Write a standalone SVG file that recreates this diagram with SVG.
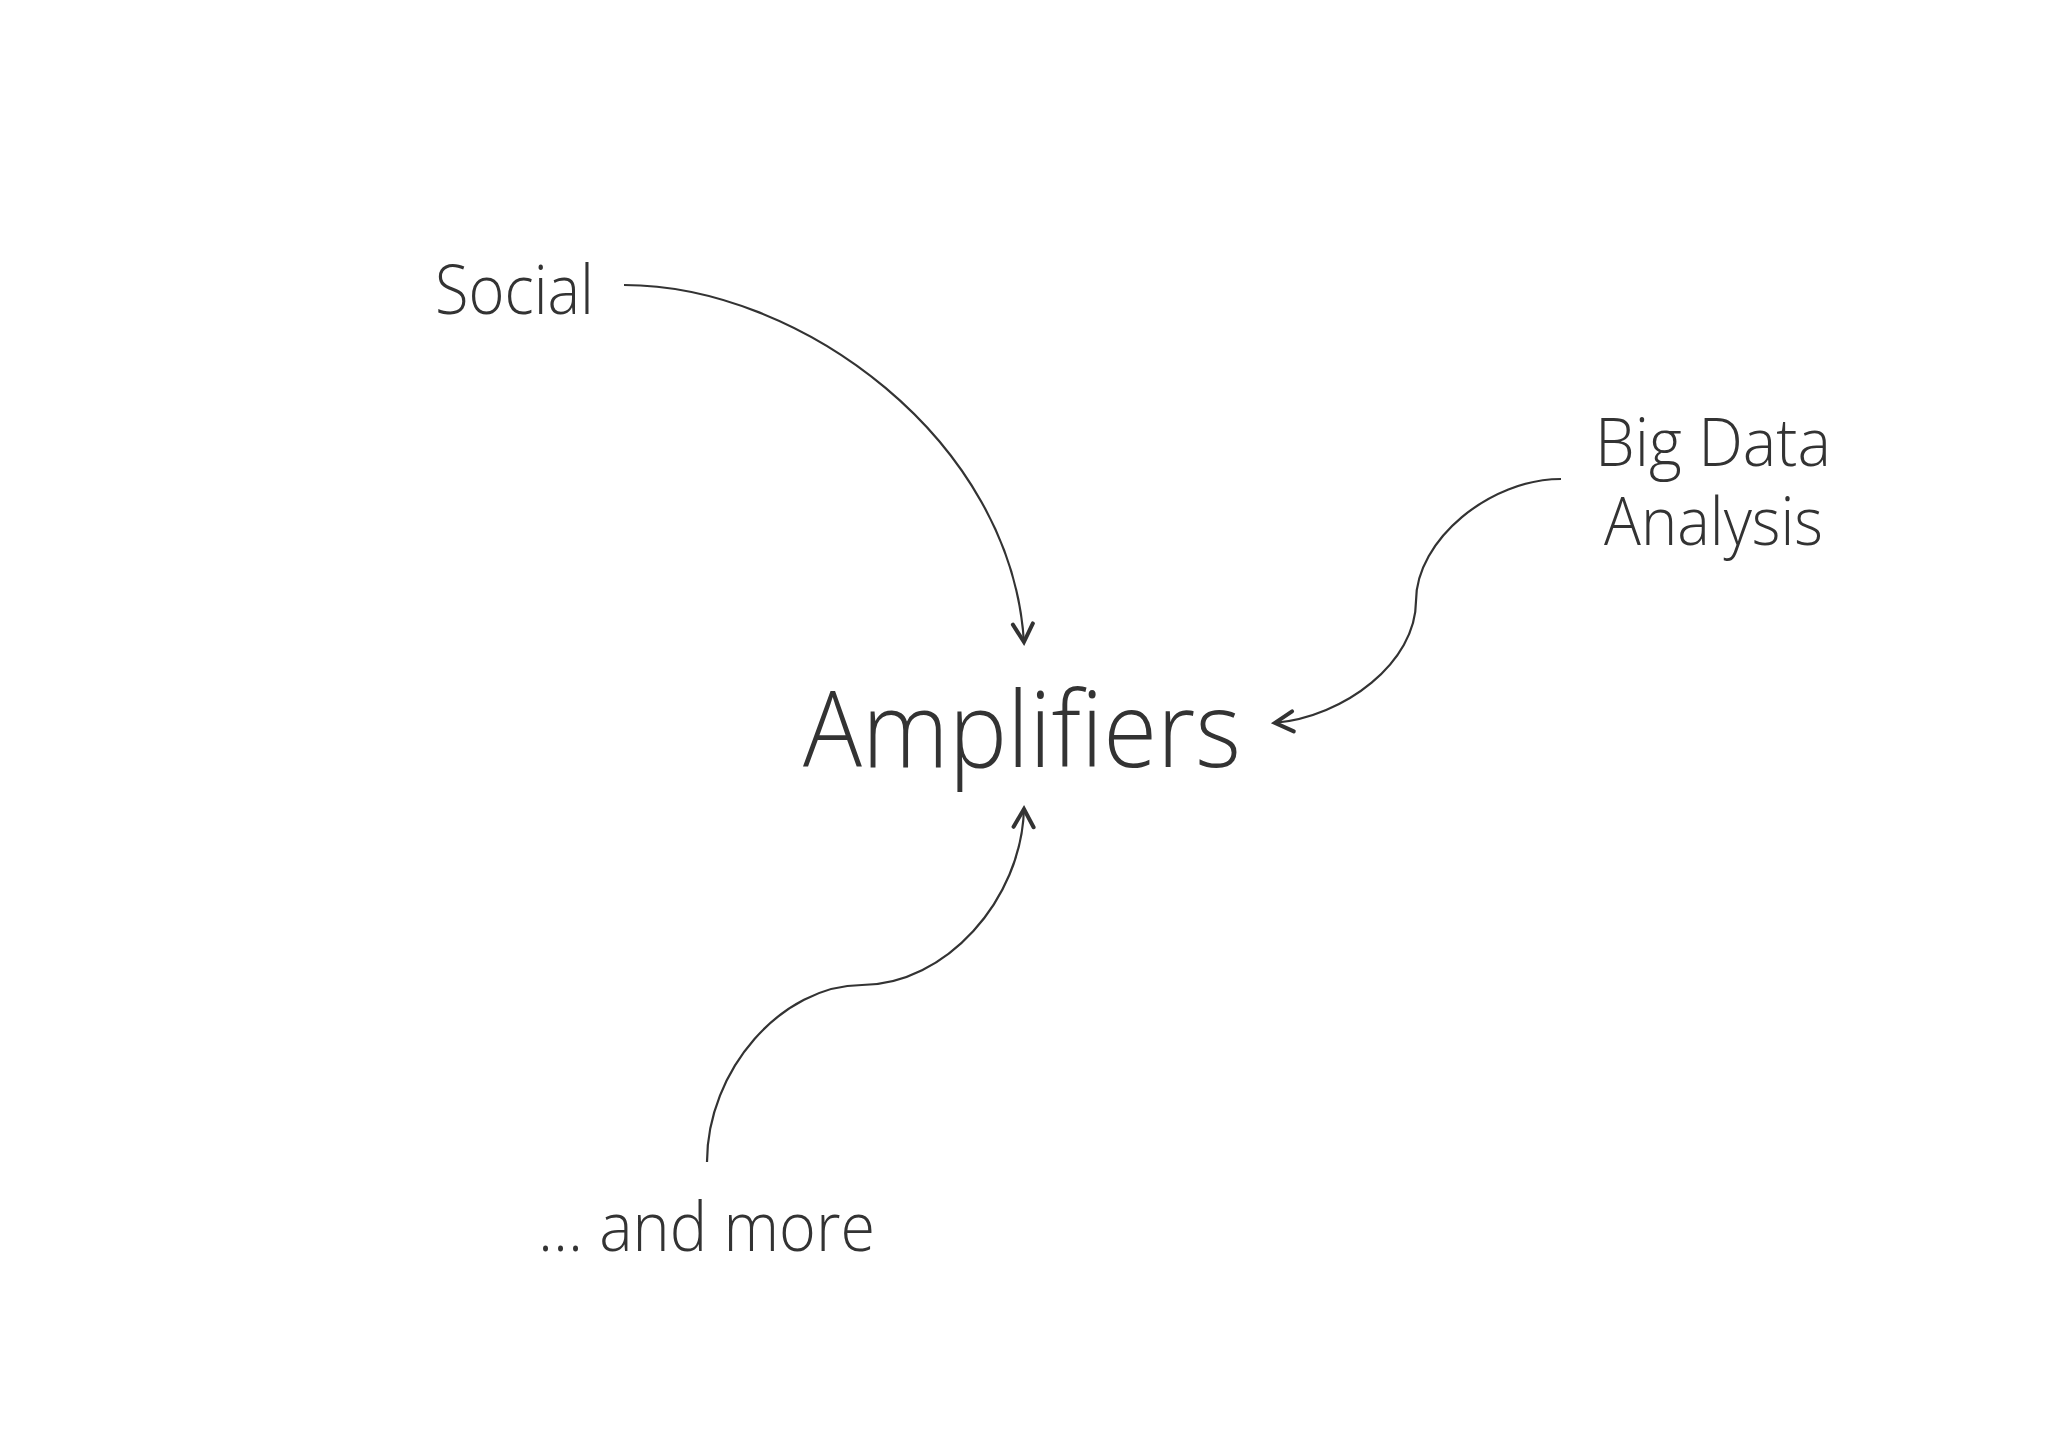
<svg xmlns="http://www.w3.org/2000/svg" width="2048" height="1447" viewBox="0 0 2048 1447">
  <style>
    .lbl { font-family: "Open Sans", "Lato", "Liberation Sans", sans-serif; font-weight: 300; fill: #333333; }
    .conn { fill: none; stroke: #333333; stroke-width: 2.2; }
    .head { fill: none; stroke: #333333; stroke-width: 4; stroke-linecap: round; stroke-linejoin: miter; }
  </style>
  <defs>
    <marker id="chev" markerUnits="userSpaceOnUse" markerWidth="50" markerHeight="50" viewBox="-25 -25 50 50" refX="0" refY="0" orient="auto">
      <path class="head" d="M-19,-10 L-1,0 L-19,10"/>
    </marker>
  </defs>
  <rect width="2048" height="1447" fill="#ffffff"/>
  <g id="connectors">
    <path class="conn" d="M624,285 C800,285 1012,440 1024,643" marker-end="url(#chev)"/>
    <path class="conn" d="M1561,479 C1490,479 1416,540 1416,601 C1416,662 1345,717 1274,723" marker-end="url(#chev)"/>
    <path class="conn" d="M707,1162 C707,1070 782,985 862,985 C945,985 1022,900 1024,808" marker-end="url(#chev)"/>
  </g>
  <g id="node-amplifiers">
    <text class="lbl" x="803" y="767" font-size="106" textLength="438" lengthAdjust="spacingAndGlyphs">Amplifiers</text>
  </g>
  <g id="node-social">
    <text class="lbl" x="435" y="314" font-size="68" textLength="159" lengthAdjust="spacingAndGlyphs">Social</text>
  </g>
  <g id="node-bigdata">
    <text class="lbl" x="1595" y="466" font-size="67" textLength="236" lengthAdjust="spacingAndGlyphs">Big Data</text>
    <text class="lbl" x="1604" y="545" font-size="67" textLength="219" lengthAdjust="spacingAndGlyphs">Analysis</text>
  </g>
  <g id="node-more">
    <text class="lbl" x="538" y="1251" font-size="68" textLength="337" lengthAdjust="spacingAndGlyphs">... and more</text>
  </g>
</svg>
